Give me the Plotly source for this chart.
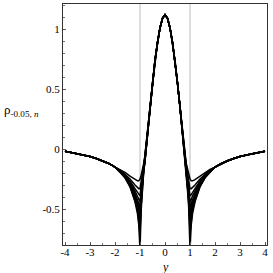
import plotly.graph_objects as go

# shared half-grid (x >= 0); curves are symmetric in y
x_inner = [0.0, 0.1, 0.2, 0.3, 0.4, 0.5, 0.6, 0.7]
v_inner = [1.12, 1.09, 1.01, 0.89, 0.74, 0.55, 0.35, 0.13]

x_mid = [0.8, 0.85, 0.9, 0.95, 1.0, 1.05, 1.1, 1.2, 1.4, 1.6, 1.8]
curves_mid = [
    [-0.07, -0.12, -0.17, -0.215, -0.25, -0.265, -0.265, -0.255, -0.225, -0.195, -0.17],
    [-0.08, -0.14, -0.20, -0.27, -0.33, -0.33, -0.32, -0.30, -0.25, -0.21, -0.175],
    [-0.08, -0.15, -0.22, -0.31, -0.39, -0.38, -0.36, -0.33, -0.265, -0.215, -0.178],
    [-0.085, -0.155, -0.24, -0.34, -0.44, -0.42, -0.39, -0.35, -0.275, -0.22, -0.18],
    [-0.09, -0.16, -0.25, -0.36, -0.48, -0.45, -0.42, -0.37, -0.285, -0.225, -0.182],
    [-0.09, -0.165, -0.26, -0.38, -0.52, -0.48, -0.44, -0.385, -0.29, -0.228, -0.184],
    [-0.095, -0.17, -0.27, -0.40, -0.57, -0.51, -0.46, -0.40, -0.30, -0.232, -0.186],
    [-0.095, -0.175, -0.28, -0.43, -0.63, -0.55, -0.49, -0.415, -0.305, -0.235, -0.188],
    [-0.10, -0.18, -0.29, -0.46, -0.71, -0.59, -0.51, -0.43, -0.31, -0.238, -0.19],
    [-0.10, -0.185, -0.30, -0.50, -0.84, -0.63, -0.54, -0.44, -0.315, -0.24, -0.19],
]

x_outer = [2.0, 2.25, 2.5, 2.75, 3.0, 3.5, 4.0]
v_outer = [-0.15, -0.12, -0.097, -0.078, -0.062, -0.038, -0.018]

x_ticks = [-4, -3, -2, -1, 0, 1, 2, 3, 4]
x_tick_text = ["-4", "-3", "-2", "-1", "0", "1", "2", "3", "4"]
y_ticks = [-0.5, 0, 0.5, 1]
y_tick_text = ["-0.5", "0", "0.5", "1"]
vlines = [-1, 1]

half_x = x_inner + x_mid + x_outer
full_x = [-v for v in half_x[::-1]] + half_x[1:]

fig = go.Figure()
for xv in vlines:
    fig.add_trace(go.Scatter(x=[xv, xv], y=[-0.80, 1.21], mode="lines",
                             line=dict(color="#c8c8c8", width=1.2),
                             showlegend=False, hoverinfo="skip"))

for mid in curves_mid:
    half_v = v_inner + mid + v_outer
    full_v = half_v[::-1] + half_v[1:]
    fig.add_trace(go.Scatter(x=full_x, y=full_v, mode="lines",
                             line=dict(color="black", width=1.5),
                             showlegend=False))

serif = "Liberation Serif, Times New Roman, serif"
tickfont = dict(family=serif, size=11, color="black")

fig.update_layout(
    template="none",
    width=273, height=273,
    margin=dict(l=63, r=6, t=4, b=28),
    paper_bgcolor="white", plot_bgcolor="white",
    font=dict(family=serif, size=11, color="black"),
    xaxis=dict(range=[-4.08, 4.08], tickvals=x_ticks, ticktext=x_tick_text,
               tickfont=tickfont, ticklabeloverflow="allow", ticklabelstandoff=-3,
               showgrid=False, zeroline=False, showline=True, mirror=True,
               linecolor="#333", linewidth=1, ticks="inside", ticklen=3,
               tickcolor="#555",
               minor=dict(ticks="inside", ticklen=2, dtick=0.5, tickcolor="#777")),
    yaxis=dict(range=[-0.80, 1.21], tickvals=y_ticks, ticktext=y_tick_text,
               tickfont=tickfont, ticklabeloverflow="allow",
               showgrid=False, zeroline=False, showline=True, mirror=True,
               linecolor="#333", linewidth=1, ticks="inside", ticklen=3,
               tickcolor="#555",
               minor=dict(ticks="inside", ticklen=2, dtick=0.1, tickcolor="#777")),
    annotations=[
        dict(text="ρ<sub>-0.05, <i>n</i></sub>", xref="paper", yref="paper",
             x=-0.3, y=0.56, xanchor="left", yanchor="middle", showarrow=False,
             font=dict(family=serif, size=13, color="black")),
        dict(text="<i>y</i>", xref="paper", yref="paper", x=0.5, y=-0.092,
             xanchor="center", yanchor="middle", showarrow=False,
             font=dict(family=serif, size=12, color="black")),
    ],
)

fig.write_html("out.html", config={"displayModeBar": False},
               post_script="document.body.style.margin='0';document.body.style.padding='0';")
